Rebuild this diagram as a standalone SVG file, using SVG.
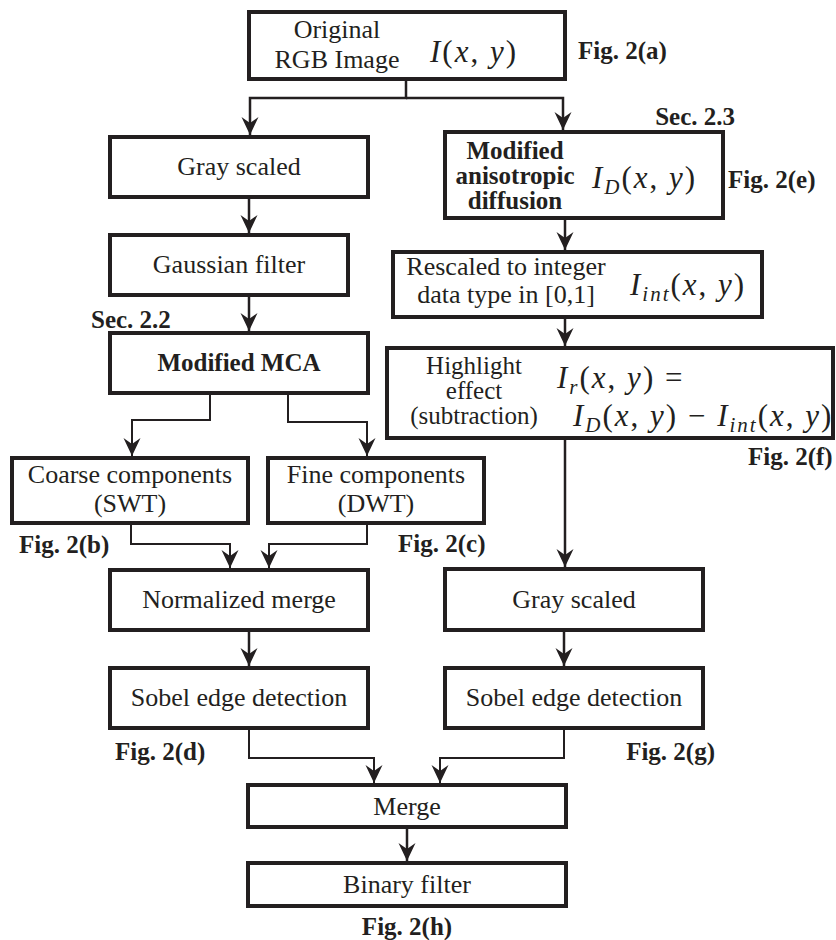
<svg xmlns="http://www.w3.org/2000/svg" width="836" height="940" viewBox="0 0 836 940">
<style>
text{font-family:'Liberation Serif','Times New Roman',Times,'DejaVu Serif',serif;fill:#231f20}
.box{fill:#fff;stroke:#231f20;stroke-width:4}
.t{font-size:26px;text-anchor:middle}
.t3{font-size:25px;text-anchor:middle}
.tb{font-size:25px;text-anchor:middle;font-weight:bold}
.b{font-size:25px;font-weight:bold}
.m{font-size:31px;letter-spacing:2px}
.i{font-style:italic}
.s{font-size:21px}
.c{fill:none;stroke:#231f20;stroke-width:2.5}
.c2{fill:none;stroke:#231f20;stroke-width:2}
</style>
<defs>
<marker id="ah" markerUnits="userSpaceOnUse" markerWidth="20" markerHeight="18" refX="18" refY="8.5" orient="auto">
<path d="M0,0 L18,8.5 L0,17 L6,8.5 Z" fill="#231f20"/>
</marker>
</defs>

<g id="connectors">
<path class="c" d="M406,79 V98 H250 V135" marker-end="url(#ah)"/>
<path class="c" d="M406,98 H563 V130" marker-end="url(#ah)"/>
<path class="c" d="M249,197 V233" marker-end="url(#ah)"/>
<path class="c" d="M249,295 V331" marker-end="url(#ah)"/>
<path class="c2" d="M210,393 V420 H132 V456" marker-end="url(#ah)"/>
<path class="c2" d="M288,393 V422 H367 V456" marker-end="url(#ah)"/>
<path class="c2" d="M131,523 V544 H230 V568" marker-end="url(#ah)"/>
<path class="c2" d="M367,523 V544 H269 V568" marker-end="url(#ah)"/>
<path class="c" d="M249,630 V666" marker-end="url(#ah)"/>
<path class="c" d="M565,218 V250" marker-end="url(#ah)"/>
<path class="c" d="M565,317 V346" marker-end="url(#ah)"/>
<path class="c" d="M565,438 V567" marker-end="url(#ah)"/>
<path class="c" d="M564,630 V666" marker-end="url(#ah)"/>
<path class="c2" d="M249,728 V758 H374 V783" marker-end="url(#ah)"/>
<path class="c2" d="M564,728 V758 H440 V783" marker-end="url(#ah)"/>
<path class="c" d="M407,827 V861" marker-end="url(#ah)"/>
</g>

<g id="original">
<rect class="box" x="249" y="12" width="316" height="67"/>
<text class="t" x="337" y="38">Original</text>
<text class="t" x="337" y="68">RGB Image</text>
<text class="m" x="430" y="62"><tspan class="i">I</tspan>(<tspan class="i">x</tspan>, <tspan class="i">y</tspan>)</text>
<text class="b" x="578" y="59">Fig. 2(a)</text>
</g>

<g id="gray1">
<rect class="box" x="110" y="137" width="258" height="60"/>
<text class="t" x="239" y="175">Gray scaled</text>
</g>

<g id="gaussian">
<rect class="box" x="110" y="235" width="238" height="60"/>
<text class="t" x="229" y="273">Gaussian filter</text>
</g>

<g id="mca">
<text class="b" x="91" y="328">Sec. 2.2</text>
<rect class="box" x="110" y="333" width="258" height="60"/>
<text class="tb" x="239" y="371" font-size="26">Modified MCA</text>
</g>

<g id="coarse">
<rect class="box" x="12" y="458" width="236" height="65"/>
<text class="t" x="130" y="483">Coarse components</text>
<text class="t" x="130" y="512">(SWT)</text>
<text class="b" x="19" y="553">Fig. 2(b)</text>
</g>

<g id="fine">
<rect class="box" x="268" y="458" width="216" height="65"/>
<text class="t" x="376" y="483">Fine components</text>
<text class="t" x="376" y="512">(DWT)</text>
<text class="b" x="398" y="552">Fig. 2(c)</text>
</g>

<g id="normmerge">
<rect class="box" x="110" y="570" width="258" height="60"/>
<text class="t" x="239" y="608">Normalized merge</text>
</g>

<g id="sobel1">
<rect class="box" x="110" y="668" width="258" height="60"/>
<text class="t" x="239" y="706">Sobel edge detection</text>
<text class="b" x="115" y="760">Fig. 2(d)</text>
</g>

<g id="aniso">
<text class="b" x="735" y="125" text-anchor="end">Sec. 2.3</text>
<rect class="box" x="445" y="132" width="278" height="86"/>
<text class="tb" x="515" y="159">Modified</text>
<text class="tb" x="515" y="184">anisotropic</text>
<text class="tb" x="515" y="209">diffusion</text>
<text class="m" x="592" y="188"><tspan class="i">I</tspan><tspan class="i s" dy="6">D</tspan><tspan dy="-6">(</tspan><tspan class="i">x</tspan>, <tspan class="i">y</tspan>)</text>
<text class="b" x="728" y="188">Fig. 2(e)</text>
</g>

<g id="rescaled">
<rect class="box" x="393" y="252" width="369" height="65"/>
<text class="t" x="506" y="275">Rescaled to integer</text>
<text class="t" x="506" y="303">data type in [0,1]</text>
<text class="m" x="630" y="295"><tspan class="i">I</tspan><tspan class="i s" dy="6">int</tspan><tspan dy="-6">(</tspan><tspan class="i">x</tspan>, <tspan class="i">y</tspan>)</text>
</g>

<g id="highlight">
<rect class="box" x="387" y="348" width="446" height="90"/>
<text class="t3" x="474" y="374">Highlight</text>
<text class="t3" x="474" y="399">effect</text>
<text class="t3" x="474" y="424">(subtraction)</text>
<text class="m" x="557" y="388"><tspan class="i">I</tspan><tspan class="i s" dy="6">r</tspan><tspan dy="-6">(</tspan><tspan class="i">x</tspan>, <tspan class="i">y</tspan>) =</text>
<text class="m" x="573" y="426"><tspan class="i">I</tspan><tspan class="i s" dy="6">D</tspan><tspan dy="-6">(</tspan><tspan class="i">x</tspan>, <tspan class="i">y</tspan>) − <tspan class="i">I</tspan><tspan class="i s" dy="6">int</tspan><tspan dy="-6">(</tspan><tspan class="i">x</tspan>, <tspan class="i">y</tspan>)</text>
<text class="b" x="748" y="465">Fig. 2(f)</text>
</g>

<g id="gray2">
<rect class="box" x="445" y="569" width="258" height="61"/>
<text class="t" x="574" y="608">Gray scaled</text>
</g>

<g id="sobel2">
<rect class="box" x="445" y="668" width="258" height="60"/>
<text class="t" x="574" y="706">Sobel edge detection</text>
<text class="b" x="715" y="760" text-anchor="end">Fig. 2(g)</text>
</g>

<g id="merge">
<rect class="box" x="248" y="785" width="318" height="42"/>
<text class="t" x="407" y="815">Merge</text>
</g>

<g id="binary">
<rect class="box" x="248" y="863" width="318" height="43"/>
<text class="t" x="407" y="893">Binary filter</text>
<text class="b" x="407" y="935" text-anchor="middle">Fig. 2(h)</text>
</g>
</svg>
